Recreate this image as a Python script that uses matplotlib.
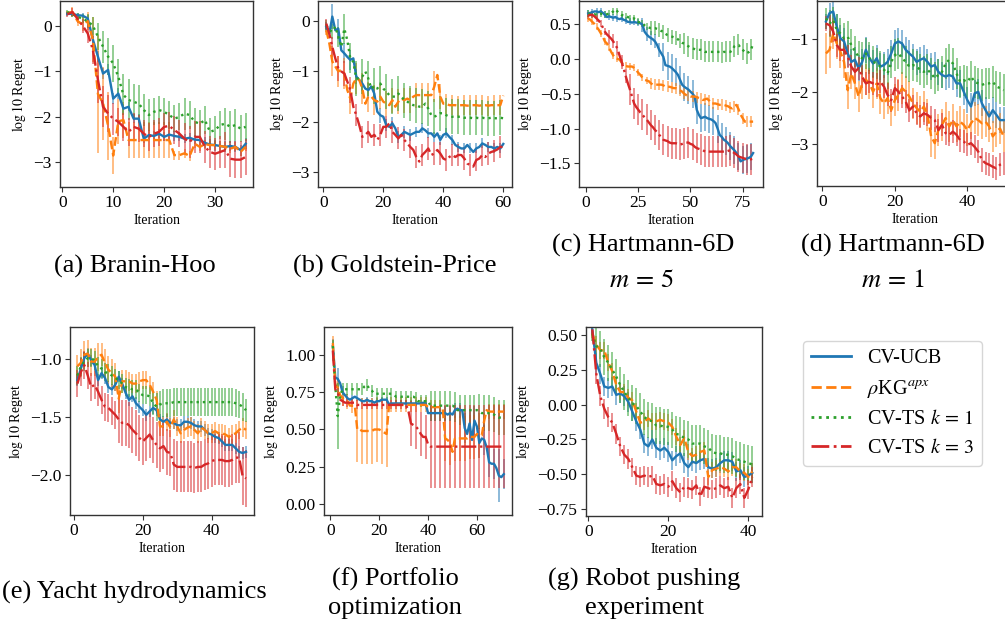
import numpy as np
import matplotlib
matplotlib.use('Agg')
import matplotlib.pyplot as plt
from matplotlib.lines import Line2D

plt.rcParams['font.family'] = ['Liberation Serif', 'DejaVu Serif']
plt.rcParams['mathtext.fontset'] = 'stix'
plt.rcParams['axes.unicode_minus'] = True

# ---------------- data ----------------
LABELS = ['CV-UCB', r'$\rho$KG$^{apx}$', r'CV-TS $k\,=\,1$', r'CV-TS $k\,=\,3$']

# (a) Branin-Hoo
A_UCB = [0.26,0.26,0.23,0.22,0.16,-0.30,-0.68,-1.05,-0.97,-1.60,
         -1.49,-1.82,-1.78,-2.04,-2.04,-2.48,-2.40,-2.42,-2.37,-2.44,
         -2.39,-2.42,-2.44,-2.48,-2.46,-2.50,-2.51,-2.57,-2.61,-2.62,
         -2.64,-2.66,-2.64,-2.66,-2.73,-2.59]
A_KG = [0.28,0.30,0.10,0.03,0.10,-0.30,-1.50,-1.70,-2.20,-2.85,
        -2.10,-2.07,-2.51,-2.51,-2.51,-2.51,-2.51,-2.51,-2.51,-2.51,
        -2.51,-2.84,-2.84,-2.80,-2.86,-2.59,-2.66,-2.60,-2.62,-2.62,
        -2.64,-2.66,-2.70,-2.66,-2.77,-2.66]
A_TS1 = [0.30,0.25,0.20,0.15,0.10,0.00,-0.24,-0.46,-0.68,-0.83,
         -1.12,-1.52,-1.63,-1.67,-1.71,-1.85,-1.96,-1.89,-1.85,-1.89,
         -1.96,-2.04,-2.00,-1.93,-1.96,-2.11,-2.15,-2.07,-2.33,-2.29,
         -2.18,-2.15,-2.22,-2.18,-2.26,-2.22]
A_TS3 = [0.25,0.30,0.15,0.00,-0.17,-0.53,-1.19,-1.78,-1.93,-2.04,
         -2.11,-2.22,-2.33,-2.22,-2.26,-2.37,-2.44,-2.37,-2.33,-2.22,
         -2.20,-2.29,-2.37,-2.48,-2.55,-2.44,-2.44,-2.66,-2.77,-2.81,
         -2.77,-2.73,-2.92,-2.94,-2.94,-2.88]
A_UCB_ERR = [0.05,0.05,0.05,0.06,0.08,0.10,0.12,0.12,0.12,0.12,
             0.12,0.10,0.10,0.10,0.10,0.10,0.10,0.10,0.10,0.10,
             0.10,0.10,0.10,0.10,0.10,0.10,0.10,0.12,0.12,0.12,
             0.12,0.12,0.12,0.12,0.12,0.12]
A_KG_ERR = [0.05,0.10,0.10,0.15,0.20,0.50,1.30,0.80,0.75,0.40,
            0.50,0.40,0.40,0.40,0.40,0.40,0.40,0.40,0.40,0.40,
            0.40,0.10,0.10,0.10,0.10,0.10,0.10,0.10,0.10,0.10,
            0.10,0.10,0.10,0.10,0.10,0.10]
A_TS1_ERR = [0.05,0.05,0.08,0.10,0.15,0.20,0.30,0.35,0.40,0.40,
             0.40,0.45,0.45,0.40,0.40,0.35,0.35,0.30,0.30,0.30,
             0.30,0.30,0.30,0.35,0.30,0.30,0.30,0.30,0.30,0.30,
             0.30,0.35,0.35,0.35,0.30,0.30]
A_TS3_ERR = [0.05,0.08,0.10,0.15,0.20,0.30,0.50,0.45,0.40,0.35,
             0.30,0.30,0.30,0.30,0.30,0.30,0.30,0.30,0.30,0.30,
             0.30,0.30,0.30,0.35,0.35,0.35,0.35,0.35,0.35,0.35,
             0.35,0.40,0.40,0.40,0.40,0.40]

# (b) Goldstein-Price
B_UCB = [-0.11,-0.25,0.09,-0.18,-0.15,-0.58,-0.64,-0.71,-0.77,-0.74,
         -1.10,-1.17,-1.24,-1.34,-1.37,-1.30,-1.44,-1.80,-1.87,-1.90,
         -2.07,-2.10,-2.03,-2.13,-2.30,-2.26,-2.20,-2.23,-2.26,-2.23,
         -2.20,-2.20,-2.13,-2.17,-2.23,-2.23,-2.30,-2.23,-2.36,-2.26,
         -2.23,-2.30,-2.36,-2.46,-2.50,-2.53,-2.53,-2.46,-2.53,-2.60,
         -2.53,-2.50,-2.43,-2.46,-2.50,-2.50,-2.53,-2.50,-2.53,-2.44]
B_KG = [-0.18,-0.44,-0.80,-0.90,-1.00,-0.97,-1.04,-1.37,-1.54,-1.24,
        -1.14,-1.17,-1.34,-1.64,-1.50,-1.50,-1.57,-1.60,-1.50,-1.60,
        -1.64,-1.67,-1.57,-1.70,-1.60,-1.54,-1.57,-1.54,-1.57,-1.50,
        -1.47,-1.47,-1.47,-1.47,-1.47,-1.47,-1.30,-1.07,-1.50,-1.64,
        -1.64,-1.67,-1.67,-1.67,-1.68,-1.67,-1.67,-1.68,-1.67,-1.67,
        -1.67,-1.68,-1.67,-1.67,-1.68,-1.67,-1.67,-1.67,-1.67,-1.48]
B_TS1 = [-0.08,-0.18,-0.21,-0.11,-0.31,-0.51,-0.15,-0.38,-0.74,-0.81,
         -1.14,-1.14,-1.10,-1.00,-1.14,-1.34,-1.29,-1.34,-1.24,-1.34,
         -1.40,-1.47,-1.50,-1.50,-1.44,-1.50,-1.57,-1.60,-1.64,-1.67,
         -1.67,-1.70,-1.70,-1.64,-1.74,-1.87,-1.90,-1.87,-1.83,-1.83,
         -1.87,-1.90,-1.90,-1.90,-1.90,-1.90,-1.92,-1.92,-1.92,-1.93,
         -1.92,-1.93,-1.92,-1.93,-1.93,-1.92,-1.93,-1.93,-1.92,-1.93]
B_TS3 = [-0.05,-0.25,-0.51,-0.74,-0.94,-1.00,-1.04,-1.20,-1.37,-1.70,
         -1.87,-2.07,-2.30,-2.26,-2.20,-2.30,-2.26,-2.36,-2.26,-2.10,
         -2.10,-2.03,-2.20,-2.26,-2.33,-2.26,-2.36,-2.43,-2.50,-2.56,
         -2.70,-2.79,-2.66,-2.60,-2.53,-2.66,-2.63,-2.56,-2.63,-2.73,
         -2.76,-2.70,-2.66,-2.70,-2.66,-2.66,-2.73,-2.83,-2.86,-2.89,
         -2.76,-2.73,-2.66,-2.70,-2.63,-2.60,-2.58,-2.55,-2.50,-2.50]
B_UCB_ERR = [0.10,0.15,0.25,0.20,0.20,0.20,0.20,0.20,0.20,0.20,
             0.15,0.15,0.15,0.15,0.15,0.15,0.15,0.15,0.15,0.15,
             0.12,0.12,0.12,0.12,0.12,0.12,0.12,0.12,0.12,0.12,
             0.10,0.10,0.10,0.10,0.10,0.10,0.10,0.10,0.10,0.10,
             0.10,0.10,0.10,0.10,0.10,0.10,0.10,0.10,0.10,0.10,
             0.10,0.10,0.10,0.10,0.10,0.10,0.10,0.10,0.10,0.10]
B_KG_ERR = [0.10,0.20,0.30,0.30,0.30,0.30,0.30,0.30,0.30,0.30,
            0.30,0.30,0.30,0.30,0.30,0.30,0.30,0.25,0.25,0.25,
            0.25,0.25,0.25,0.25,0.25,0.25,0.25,0.25,0.25,0.25,
            0.25,0.25,0.25,0.25,0.25,0.25,0.30,0.25,0.25,0.25,
            0.20,0.20,0.20,0.20,0.20,0.20,0.20,0.20,0.20,0.20,
            0.20,0.20,0.20,0.20,0.20,0.20,0.20,0.20,0.20,0.20]
B_TS1_ERR = [0.10,0.10,0.15,0.15,0.20,0.25,0.30,0.30,0.30,0.30,
             0.35,0.35,0.35,0.35,0.35,0.35,0.35,0.35,0.35,0.35,
             0.35,0.35,0.35,0.35,0.35,0.35,0.35,0.35,0.35,0.35,
             0.35,0.35,0.35,0.35,0.35,0.35,0.35,0.35,0.35,0.35,
             0.35,0.35,0.35,0.35,0.35,0.35,0.35,0.35,0.35,0.35,
             0.35,0.35,0.35,0.35,0.35,0.35,0.35,0.35,0.35,0.35]
B_TS3_ERR = [0.10,0.15,0.20,0.25,0.25,0.25,0.25,0.25,0.25,0.25,
             0.22,0.22,0.22,0.22,0.22,0.22,0.22,0.22,0.22,0.22,
             0.22,0.22,0.22,0.22,0.22,0.22,0.22,0.22,0.22,0.22,
             0.22,0.22,0.22,0.22,0.22,0.22,0.22,0.22,0.22,0.22,
             0.22,0.22,0.22,0.22,0.22,0.22,0.22,0.22,0.22,0.22,
             0.22,0.22,0.22,0.22,0.22,0.22,0.22,0.22,0.22,0.22]

# (c) Hartmann-6D, m = 5
C_UCB = [0.65,0.66,0.67,0.68,0.68,0.67,0.68,0.66,0.63,0.60,
         0.61,0.60,0.59,0.60,0.58,0.57,0.58,0.56,0.55,0.53,
         0.53,0.52,0.53,0.52,0.52,0.51,0.49,0.39,0.35,0.32,
         0.30,0.28,0.25,0.20,0.13,0.08,0.03,-0.09,-0.10,-0.11,
         -0.13,-0.16,-0.19,-0.23,-0.30,-0.37,-0.40,-0.42,-0.44,-0.47,
         -0.50,-0.54,-0.73,-0.80,-0.85,-0.84,-0.83,-0.85,-0.86,-0.87,
         -0.89,-0.92,-1.00,-1.09,-1.12,-1.16,-1.18,-1.21,-1.25,-1.28,
         -1.31,-1.35,-1.40,-1.47,-1.45,-1.44,-1.43,-1.42,-1.40,-1.35]
C_KG = [0.58,0.56,0.53,0.50,0.46,0.42,0.37,0.32,0.25,0.22,
        0.16,0.10,0.05,0.01,0.00,-0.01,-0.05,-0.09,-0.10,-0.11,
        -0.11,-0.11,-0.13,-0.16,-0.20,-0.23,-0.27,-0.30,-0.31,-0.32,
        -0.35,-0.37,-0.37,-0.37,-0.37,-0.37,-0.38,-0.40,-0.40,-0.40,
        -0.41,-0.42,-0.42,-0.43,-0.45,-0.47,-0.50,-0.52,-0.53,-0.54,
        -0.54,-0.54,-0.55,-0.56,-0.57,-0.59,-0.58,-0.57,-0.60,-0.64,
        -0.64,-0.64,-0.65,-0.66,-0.66,-0.66,-0.67,-0.68,-0.70,-0.71,
        -0.68,-0.66,-0.72,-0.80,-0.85,-0.90,-0.90,-0.90,-0.90,-0.90]
C_TS1 = [0.65,0.64,0.63,0.64,0.63,0.64,0.65,0.64,0.63,0.64,
         0.65,0.66,0.68,0.71,0.68,0.65,0.63,0.62,0.61,0.60,
         0.58,0.58,0.58,0.56,0.53,0.52,0.51,0.48,0.46,0.45,
         0.44,0.44,0.44,0.43,0.42,0.40,0.39,0.36,0.34,0.33,
         0.32,0.31,0.30,0.28,0.25,0.23,0.22,0.20,0.18,0.16,
         0.15,0.14,0.13,0.13,0.13,0.12,0.10,0.10,0.10,0.10,
         0.10,0.10,0.10,0.10,0.09,0.10,0.10,0.10,0.10,0.12,
         0.18,0.20,0.20,0.16,0.13,0.10,0.08,0.10,0.13,0.22]
C_TS3 = [0.62,0.63,0.63,0.61,0.58,0.55,0.51,0.45,0.39,0.35,
         0.32,0.29,0.25,0.20,0.15,0.05,-0.04,-0.14,-0.25,-0.35,
         -0.44,-0.54,-0.64,-0.69,-0.73,-0.77,-0.80,-0.84,-0.87,-0.91,
         -0.95,-0.98,-1.02,-1.05,-1.09,-1.12,-1.16,-1.17,-1.18,-1.20,
         -1.21,-1.21,-1.21,-1.22,-1.23,-1.22,-1.21,-1.20,-1.20,-1.22,
         -1.23,-1.26,-1.28,-1.29,-1.30,-1.31,-1.33,-1.33,-1.33,-1.33,
         -1.33,-1.33,-1.33,-1.33,-1.33,-1.33,-1.33,-1.32,-1.31,-1.33,
         -1.35,-1.37,-1.40,-1.41,-1.42,-1.43,-1.44,-1.44,-1.44,-1.43]
C_UCB_ERR = [0.05,0.05,0.05,0.05,0.05,0.05,0.05,0.05,0.05,0.05,
             0.05,0.05,0.05,0.05,0.05,0.05,0.05,0.05,0.05,0.05,
             0.05,0.05,0.05,0.05,0.05,0.10,0.10,0.10,0.10,0.10,
             0.10,0.10,0.10,0.10,0.10,0.20,0.20,0.20,0.20,0.20,
             0.20,0.20,0.20,0.20,0.20,0.20,0.20,0.20,0.20,0.20,
             0.20,0.20,0.20,0.20,0.20,0.20,0.20,0.20,0.20,0.20,
             0.20,0.20,0.20,0.20,0.20,0.20,0.20,0.20,0.20,0.20,
             0.20,0.20,0.20,0.20,0.20,0.20,0.20,0.20,0.20,0.20]
C_KG_ERR = [0.05,0.05,0.05,0.05,0.05,0.05,0.05,0.05,0.05,0.05,
            0.05,0.05,0.05,0.05,0.05,0.05,0.05,0.05,0.05,0.05,
            0.05,0.05,0.05,0.05,0.05,0.05,0.05,0.05,0.05,0.05,
            0.08,0.08,0.08,0.08,0.08,0.08,0.08,0.08,0.08,0.08,
            0.08,0.08,0.08,0.08,0.08,0.08,0.08,0.08,0.08,0.08,
            0.08,0.08,0.08,0.08,0.08,0.08,0.08,0.08,0.08,0.08,
            0.08,0.08,0.08,0.08,0.08,0.08,0.08,0.08,0.08,0.08,
            0.08,0.08,0.08,0.08,0.08,0.08,0.08,0.08,0.08,0.08]
C_TS1_ERR = [0.05,0.05,0.05,0.05,0.05,0.05,0.05,0.05,0.05,0.05,
             0.05,0.05,0.05,0.05,0.05,0.05,0.05,0.05,0.05,0.05,
             0.05,0.05,0.05,0.05,0.05,0.05,0.05,0.05,0.05,0.05,
             0.10,0.10,0.10,0.10,0.10,0.10,0.10,0.10,0.10,0.10,
             0.10,0.10,0.10,0.10,0.10,0.15,0.15,0.15,0.15,0.15,
             0.15,0.15,0.15,0.15,0.15,0.15,0.15,0.15,0.15,0.15,
             0.15,0.15,0.15,0.15,0.15,0.15,0.15,0.15,0.15,0.15,
             0.15,0.15,0.15,0.15,0.15,0.15,0.15,0.15,0.15,0.15]
C_TS3_ERR = [0.05,0.05,0.05,0.05,0.05,0.05,0.05,0.05,0.05,0.05,
             0.10,0.10,0.10,0.10,0.10,0.10,0.10,0.10,0.10,0.10,
             0.22,0.22,0.22,0.22,0.22,0.22,0.22,0.22,0.22,0.22,
             0.22,0.22,0.22,0.22,0.22,0.22,0.22,0.22,0.22,0.22,
             0.22,0.22,0.22,0.22,0.22,0.22,0.22,0.22,0.22,0.22,
             0.22,0.22,0.22,0.22,0.22,0.22,0.22,0.22,0.22,0.22,
             0.22,0.22,0.22,0.22,0.22,0.22,0.22,0.22,0.22,0.22,
             0.22,0.22,0.22,0.22,0.22,0.22,0.22,0.22,0.22,0.22]

# (d) Hartmann-6D, m = 1
D_UCB = [-0.66,-0.50,-0.47,-0.76,-0.98,-1.04,-1.27,-1.43,-1.39,-1.55,
         -1.43,-1.20,-1.36,-1.46,-1.36,-1.52,-1.49,-1.43,-1.27,-1.08,
         -1.04,-1.08,-1.20,-1.27,-1.33,-1.43,-1.39,-1.36,-1.43,-1.52,
         -1.49,-1.62,-1.68,-1.71,-1.68,-1.71,-1.84,-1.84,-2.00,-2.16,
         -2.28,-2.03,-2.00,-2.22,-2.35,-2.47,-2.35,-2.44,-2.54,-2.54]
D_KG = [-1.27,-1.20,-0.89,-1.08,-1.24,-1.43,-1.97,-1.65,-1.84,-2.09,
        -1.84,-1.77,-1.84,-2.00,-1.84,-2.12,-2.22,-2.12,-2.35,-2.16,
        -2.06,-1.93,-2.00,-2.09,-2.22,-2.31,-2.38,-2.28,-2.44,-2.85,
        -2.98,-2.73,-2.63,-2.50,-2.66,-2.54,-2.66,-2.57,-2.63,-2.73,
        -2.60,-2.50,-2.54,-2.60,-2.57,-2.66,-2.85,-2.76,-2.70,-2.85]
D_TS1 = [-0.60,-0.70,-0.63,-0.82,-0.89,-0.98,-0.95,-1.11,-1.23,-1.33,
         -1.36,-1.27,-1.36,-1.43,-1.46,-1.52,-1.58,-1.65,-1.43,-1.30,
         -1.27,-1.36,-1.43,-1.52,-1.49,-1.52,-1.58,-1.62,-1.58,-1.65,
         -1.74,-1.68,-1.62,-1.46,-1.39,-1.46,-1.65,-1.81,-1.78,-1.81,
         -1.71,-1.81,-1.84,-1.87,-1.84,-1.84,-1.81,-1.90,-1.93,-1.97]
D_TS3 = [-0.70,-0.73,-0.85,-1.11,-1.20,-1.20,-1.33,-1.52,-1.62,-1.55,
         -1.71,-1.84,-1.81,-1.84,-1.87,-1.81,-1.90,-2.06,-2.16,-1.93,
         -2.00,-2.09,-2.19,-2.35,-2.28,-2.41,-2.47,-2.41,-2.44,-2.50,
         -2.54,-2.73,-2.63,-2.79,-2.82,-2.76,-2.82,-2.92,-2.95,-3.01,
         -2.98,-3.05,-3.14,-3.30,-3.36,-3.39,-3.43,-3.46,-3.39,-3.36]
D_UCB_ERR = [0.15,0.20,0.20,0.25,0.25,0.25,0.25,0.25,0.25,0.25,
             0.25,0.25,0.25,0.25,0.25,0.25,0.25,0.25,0.25,0.25,
             0.25,0.25,0.25,0.25,0.25,0.25,0.25,0.25,0.25,0.25,
             0.25,0.25,0.25,0.25,0.25,0.25,0.25,0.25,0.25,0.25,
             0.25,0.25,0.25,0.25,0.25,0.25,0.25,0.25,0.25,0.25]
D_KG_ERR = [0.40,0.35,0.30,0.30,0.30,0.30,0.35,0.30,0.30,0.30,
            0.30,0.30,0.30,0.30,0.30,0.30,0.30,0.30,0.30,0.30,
            0.30,0.30,0.30,0.30,0.30,0.30,0.30,0.30,0.30,0.40,
            0.30,0.30,0.30,0.30,0.30,0.30,0.30,0.30,0.30,0.30,
            0.30,0.30,0.30,0.30,0.30,0.30,0.30,0.30,0.30,0.30]
D_TS1_ERR = [0.20,0.25,0.25,0.30,0.30,0.30,0.30,0.30,0.30,0.30,
             0.30,0.30,0.30,0.30,0.30,0.30,0.30,0.30,0.30,0.30,
             0.30,0.30,0.30,0.30,0.30,0.30,0.30,0.30,0.30,0.30,
             0.30,0.30,0.30,0.30,0.30,0.30,0.30,0.30,0.30,0.30,
             0.30,0.30,0.30,0.30,0.30,0.30,0.30,0.30,0.30,0.30]
D_TS3_ERR = [0.15,0.20,0.20,0.22,0.22,0.22,0.22,0.22,0.22,0.22,
             0.22,0.22,0.22,0.22,0.22,0.22,0.22,0.22,0.22,0.22,
             0.22,0.22,0.22,0.22,0.22,0.22,0.22,0.22,0.22,0.22,
             0.22,0.22,0.22,0.22,0.22,0.22,0.22,0.22,0.22,0.22,
             0.22,0.22,0.22,0.22,0.22,0.22,0.22,0.22,0.22,0.22]

# (e) Yacht hydrodynamics
E_UCB = [-1.18,-1.08,-0.99,-0.95,-1.01,-1.05,-1.18,-1.12,-1.16,-1.24,
         -1.26,-1.22,-1.15,-1.21,-1.29,-1.35,-1.32,-1.38,-1.41,-1.44,
         -1.48,-1.45,-1.42,-1.44,-1.52,-1.54,-1.52,-1.55,-1.55,-1.57,
         -1.57,-1.54,-1.54,-1.55,-1.57,-1.58,-1.58,-1.61,-1.64,-1.65,
         -1.67,-1.68,-1.71,-1.74,-1.74,-1.74,-1.77,-1.80,-1.81,-1.80]
E_KG = [-1.06,-1.03,-0.96,-0.95,-1.02,-1.02,-0.98,-0.96,-1.03,-1.09,
        -1.12,-1.15,-1.34,-1.19,-1.19,-1.19,-1.21,-1.21,-1.19,-1.18,
        -1.18,-1.22,-1.28,-1.35,-1.58,-1.58,-1.54,-1.59,-1.52,-1.58,
        -1.64,-1.61,-1.59,-1.58,-1.61,-1.64,-1.59,-1.61,-1.64,-1.64,
        -1.62,-1.64,-1.64,-1.65,-1.67,-1.65,-1.64,-1.61,-1.59,-1.61]
E_TS1 = [-1.14,-1.06,-1.02,-0.99,-0.99,-1.01,-1.06,-1.08,-1.11,-1.12,
         -1.14,-1.16,-1.18,-1.21,-1.24,-1.25,-1.26,-1.26,-1.29,-1.31,
         -1.31,-1.32,-1.38,-1.41,-1.39,-1.38,-1.38,-1.38,-1.37,-1.37,
         -1.37,-1.37,-1.37,-1.37,-1.37,-1.37,-1.37,-1.37,-1.37,-1.37,
         -1.37,-1.37,-1.37,-1.37,-1.37,-1.37,-1.38,-1.39,-1.41,-1.44]
E_TS3 = [-1.21,-1.11,-1.05,-1.14,-1.24,-1.22,-1.28,-1.35,-1.41,-1.42,
         -1.45,-1.48,-1.52,-1.55,-1.55,-1.57,-1.61,-1.64,-1.68,-1.71,
         -1.68,-1.65,-1.70,-1.74,-1.77,-1.75,-1.80,-1.81,-1.91,-1.93,
         -1.93,-1.93,-1.93,-1.93,-1.94,-1.93,-1.93,-1.91,-1.90,-1.88,
         -1.87,-1.87,-1.87,-1.88,-1.88,-1.87,-1.85,-1.85,-2.01,-2.03]
E_UCB_ERR = [0.05,0.05,0.05,0.05,0.05,0.05,0.05,0.05,0.05,0.05,
             0.05,0.05,0.05,0.05,0.05,0.05,0.05,0.05,0.05,0.05,
             0.05,0.05,0.05,0.05,0.05,0.05,0.05,0.05,0.05,0.05,
             0.05,0.05,0.05,0.05,0.05,0.05,0.05,0.05,0.05,0.05,
             0.05,0.05,0.05,0.05,0.05,0.05,0.05,0.05,0.05,0.05]
E_KG_ERR = [0.10,0.12,0.12,0.12,0.12,0.12,0.12,0.10,0.12,0.12,
            0.12,0.12,0.12,0.10,0.10,0.08,0.08,0.08,0.08,0.08,
            0.08,0.08,0.08,0.08,0.08,0.08,0.08,0.08,0.08,0.08,
            0.08,0.08,0.08,0.08,0.08,0.08,0.08,0.08,0.08,0.08,
            0.08,0.08,0.08,0.08,0.08,0.08,0.08,0.08,0.08,0.08]
E_TS1_ERR = [0.08,0.08,0.08,0.08,0.08,0.08,0.08,0.08,0.08,0.08,
             0.08,0.08,0.08,0.08,0.08,0.08,0.08,0.08,0.08,0.08,
             0.08,0.08,0.10,0.12,0.12,0.12,0.12,0.12,0.12,0.12,
             0.12,0.12,0.12,0.12,0.12,0.12,0.12,0.12,0.12,0.12,
             0.12,0.12,0.12,0.12,0.12,0.12,0.12,0.12,0.12,0.10]
E_TS3_ERR = [0.12,0.12,0.12,0.12,0.12,0.12,0.12,0.12,0.12,0.12,
             0.12,0.12,0.20,0.20,0.20,0.20,0.20,0.20,0.20,0.20,
             0.20,0.20,0.20,0.20,0.20,0.20,0.20,0.20,0.22,0.22,
             0.22,0.22,0.22,0.22,0.22,0.22,0.22,0.22,0.22,0.22,
             0.22,0.22,0.22,0.22,0.22,0.22,0.22,0.22,0.25,0.25]

# (f) Portfolio optimization
F_UCB = [1.06,0.85,0.84,0.81,0.75,0.73,0.71,0.70,0.71,0.72,
         0.71,0.70,0.69,0.69,0.70,0.69,0.69,0.68,0.69,0.69,
         0.70,0.70,0.70,0.67,0.675,0.675,0.675,0.675,0.675,0.675,
         0.675,0.675,0.675,0.675,0.675,0.675,0.675,0.68,0.675,0.61,
         0.61,0.61,0.61,0.61,0.61,0.61,0.61,0.60,0.61,0.60,
         0.63,0.64,0.63,0.63,0.51,0.47,0.54,0.43,0.56,0.52,
         0.41,0.44,0.43,0.38,0.28,0.27,0.27,0.24,0.19,0.18,0.20]
F_KG = [1.08,0.80,0.78,0.73,0.71,0.70,0.69,0.66,0.66,0.66,
        0.50,0.50,0.49,0.49,0.49,0.49,0.49,0.50,0.50,0.50,
        0.49,0.48,0.47,0.66,0.665,0.665,0.665,0.665,0.665,0.665,
        0.665,0.665,0.665,0.665,0.665,0.665,0.665,0.665,0.665,0.65,
        0.65,0.65,0.65,0.65,0.65,0.64,0.44,0.43,0.41,0.35,
        0.44,0.44,0.44,0.44,0.44,0.44,0.45,0.45,0.45,0.47,
        0.46,0.46,0.56,0.63,0.62,0.62,0.62,0.62,0.62,0.62,0.62]
F_TS1 = [1.06,0.79,0.59,0.73,0.77,0.77,0.77,0.77,0.77,0.77,
         0.77,0.77,0.77,0.79,0.80,0.77,0.76,0.74,0.74,0.74,
         0.74,0.74,0.74,0.74,0.74,0.73,0.72,0.72,0.72,0.72,
         0.72,0.72,0.72,0.72,0.71,0.69,0.69,0.69,0.69,0.69,
         0.66,0.66,0.66,0.66,0.66,0.66,0.66,0.66,0.66,0.66,
         0.65,0.63,0.63,0.63,0.63,0.63,0.63,0.63,0.63,0.63,
         0.62,0.61,0.61,0.61,0.61,0.61,0.60,0.59,0.58,0.58,0.58]
F_TS3 = [1.03,0.77,0.75,0.70,0.69,0.68,0.68,0.68,0.68,0.68,
         0.665,0.665,0.665,0.665,0.665,0.665,0.665,0.665,0.665,0.665,
         0.665,0.665,0.665,0.665,0.665,0.665,0.665,0.665,0.665,0.665,
         0.665,0.62,0.54,0.53,0.52,0.50,0.47,0.45,0.45,0.40,
         0.385,0.385,0.385,0.385,0.385,0.385,0.385,0.385,0.385,0.385,
         0.385,0.385,0.385,0.385,0.385,0.385,0.385,0.385,0.385,0.385,
         0.385,0.385,0.385,0.385,0.385,0.385,0.385,0.385,0.385,0.385,0.385]
F_UCB_ERR = [0.05,0.07,0.07,0.07,0.04,0.03,0.03,0.02,0.02,0.02,
             0.02,0.02,0.02,0.02,0.02,0.02,0.02,0.02,0.02,0.02,
             0.02,0.02,0.02,0.02,0.02,0.02,0.02,0.02,0.02,0.02,
             0.02,0.02,0.02,0.02,0.02,0.02,0.02,0.02,0.02,0.05,
             0.05,0.05,0.05,0.05,0.05,0.05,0.05,0.05,0.05,0.05,
             0.05,0.05,0.05,0.05,0.10,0.10,0.10,0.10,0.10,0.10,
             0.10,0.10,0.10,0.10,0.10,0.10,0.10,0.10,0.18,0.10,0.10]
F_KG_ERR = [0.05,0.05,0.05,0.05,0.05,0.05,0.05,0.05,0.05,0.05,
            0.22,0.22,0.22,0.22,0.22,0.22,0.22,0.22,0.22,0.22,
            0.22,0.22,0.22,0.05,0.05,0.05,0.05,0.05,0.05,0.05,
            0.05,0.05,0.05,0.05,0.05,0.05,0.05,0.05,0.05,0.05,
            0.05,0.05,0.05,0.05,0.05,0.05,0.15,0.15,0.15,0.15,
            0.15,0.15,0.15,0.15,0.15,0.15,0.15,0.15,0.15,0.15,
            0.15,0.15,0.05,0.05,0.05,0.05,0.05,0.05,0.05,0.05,0.05]
F_TS1_ERR = [0.04,0.04,0.22,0.04,0.04,0.04,0.04,0.04,0.04,0.04,
             0.04,0.04,0.04,0.04,0.04,0.04,0.04,0.04,0.04,0.04,
             0.04,0.04,0.04,0.04,0.04,0.04,0.04,0.04,0.04,0.04,
             0.04,0.04,0.04,0.04,0.04,0.04,0.04,0.04,0.04,0.10,
             0.10,0.10,0.10,0.10,0.10,0.10,0.10,0.10,0.10,0.10,
             0.10,0.10,0.10,0.10,0.10,0.10,0.10,0.10,0.10,0.10,
             0.12,0.12,0.12,0.12,0.12,0.12,0.12,0.12,0.12,0.12,0.12]
F_TS3_ERR = [0.03,0.03,0.03,0.03,0.03,0.03,0.03,0.03,0.03,0.03,
             0.03,0.03,0.03,0.03,0.03,0.03,0.03,0.03,0.03,0.03,
             0.03,0.03,0.03,0.03,0.03,0.03,0.03,0.03,0.03,0.03,
             0.03,0.05,0.15,0.15,0.15,0.15,0.15,0.15,0.15,0.28,
             0.28,0.28,0.28,0.28,0.28,0.28,0.28,0.28,0.28,0.28,
             0.28,0.28,0.28,0.28,0.28,0.28,0.28,0.28,0.28,0.28,
             0.28,0.28,0.28,0.28,0.28,0.28,0.28,0.28,0.28,0.28,0.28]

# (g) Robot pushing experiment
G_UCB = [0.54,0.30,0.22,0.13,0.12,0.13,0.07,0.08,0.06,0.02,
         -0.05,-0.12,-0.18,-0.28,-0.30,-0.25,-0.31,-0.33,-0.31,-0.34,
         -0.40,-0.37,-0.35,-0.42,-0.45,-0.41,-0.42,-0.40,-0.39,-0.45,
         -0.46,-0.45,-0.42,-0.40,-0.40,-0.41,-0.48,-0.47,-0.52,-0.51,-0.49]
G_KG = [0.51,0.43,0.39,0.39,0.30,0.24,0.14,0.09,0.09,0.05,
        0.03,-0.05,-0.13,-0.12,-0.10,-0.12,-0.12,-0.11,-0.12,-0.13,
        -0.16,-0.23,-0.29,-0.24,-0.34,-0.37,-0.36,-0.34,-0.33,-0.52,
        -0.47,-0.46,-0.45,-0.46,-0.48,-0.45,-0.45,-0.48,-0.49,-0.52,-0.48]
G_TS1 = [0.51,0.42,0.40,0.34,0.30,0.25,0.20,0.14,0.09,0.05,
         0.01,-0.01,-0.05,-0.09,-0.11,-0.12,-0.15,-0.15,-0.16,-0.16,
         -0.18,-0.21,-0.22,-0.24,-0.25,-0.28,-0.28,-0.28,-0.30,-0.31,
         -0.34,-0.35,-0.35,-0.36,-0.36,-0.37,-0.39,-0.40,-0.41,-0.42,-0.43]
G_TS3 = [0.54,0.22,0.06,-0.03,-0.09,-0.13,-0.21,-0.30,-0.36,-0.39,
         -0.45,-0.51,-0.52,-0.51,-0.52,-0.51,-0.57,-0.58,-0.57,-0.59,
         -0.55,-0.60,-0.63,-0.59,-0.60,-0.61,-0.58,-0.66,-0.59,-0.60,
         -0.61,-0.60,-0.58,-0.60,-0.59,-0.67,-0.60,-0.57,-0.67,-0.61,-0.52]
G_UCB_ERR = [0.03,0.07,0.07,0.07,0.07,0.07,0.07,0.07,0.07,0.07,
             0.07,0.07,0.07,0.07,0.07,0.07,0.07,0.07,0.07,0.07,
             0.07,0.07,0.07,0.07,0.07,0.07,0.07,0.07,0.07,0.07,
             0.07,0.07,0.07,0.07,0.07,0.07,0.07,0.07,0.07,0.07,0.07]
G_KG_ERR = [0.03,0.06,0.06,0.06,0.06,0.06,0.06,0.06,0.06,0.06,
            0.06,0.06,0.06,0.06,0.06,0.06,0.06,0.06,0.06,0.06,
            0.06,0.06,0.06,0.06,0.06,0.06,0.06,0.06,0.06,0.06,
            0.06,0.06,0.06,0.06,0.06,0.06,0.06,0.06,0.06,0.06,0.06]
G_TS1_ERR = [0.05,0.13,0.13,0.13,0.13,0.13,0.13,0.13,0.13,0.13,
             0.13,0.13,0.13,0.13,0.13,0.13,0.13,0.13,0.13,0.13,
             0.13,0.13,0.13,0.13,0.13,0.13,0.13,0.13,0.13,0.13,
             0.13,0.13,0.13,0.13,0.13,0.13,0.13,0.13,0.13,0.13,0.13]
G_TS3_ERR = [0.03,0.07,0.07,0.07,0.07,0.07,0.07,0.07,0.07,0.07,
             0.07,0.07,0.07,0.07,0.07,0.07,0.07,0.07,0.07,0.07,
             0.07,0.07,0.07,0.07,0.07,0.07,0.07,0.07,0.07,0.07,
             0.07,0.07,0.07,0.07,0.07,0.07,0.07,0.07,0.07,0.07,0.07]

# ---------------- style / layout ----------------
COLORS = ['#1f77b4', '#ff7f0e', '#2ca02c', '#d62728']
STYLES = ['-', '--', ':', '-.']
SPINE = '#333333'

W, H = 1005, 623
fig = plt.figure(figsize=(W / 100, H / 100), dpi=100)


def add_ax(box):
    l, t, r, b = box
    return fig.add_axes([l / W, 1 - b / H, (r - l) / W, (b - t) / H])


panels = [
    dict(box=(60, 0.5, 253.3, 187), xlim=(-0.45, 37.5), ylim=(-3.54, 0.553),
         xt=[0, 10, 20, 30], yt=[0, -1, -2, -3], every=1,
         ys=[A_UCB, A_KG, A_TS1, A_TS3], es=[A_UCB_ERR, A_KG_ERR, A_TS1_ERR, A_TS3_ERR]),
    dict(box=(318.3, 0.5, 512, 186.7), xlim=(-1.67, 62.9), ylim=(-3.29, 0.41),
         xt=[0, 20, 40, 60], yt=[0, -1, -2, -3], every=2,
         ys=[B_UCB, B_KG, B_TS1, B_TS3], es=[B_UCB_ERR, B_KG_ERR, B_TS1_ERR, B_TS3_ERR]),
    dict(box=(579.3, 0.5, 762.5, 186.7), xlim=(-3.26, 84.5), ylim=(-1.833, 0.837),
         xt=[0, 25, 50, 75], yt=[0.5, 0.0, -0.5, -1.0, -1.5], every=2,
         ys=[C_UCB, C_KG, C_TS1, C_TS3], es=[C_UCB_ERR, C_KG_ERR, C_TS1_ERR, C_TS3_ERR]),
    dict(box=(817.3, 0.5, 1012, 185.7), xlim=(-1.38, 52.3), ylim=(-3.79, -0.26),
         xt=[0, 20, 40], yt=[-1, -2, -3], every=1,
         ys=[D_UCB, D_KG, D_TS1, D_TS3], es=[D_UCB_ERR, D_KG_ERR, D_TS1_ERR, D_TS3_ERR]),
    dict(box=(70, 326.7, 254.3, 515), xlim=(-1.16, 52.4), ylim=(-2.346, -0.718),
         xt=[0, 20, 40], yt=[-1.0, -1.5, -2.0], every=1,
         ys=[E_UCB, E_KG, E_TS1, E_TS3], es=[E_UCB_ERR, E_KG_ERR, E_TS1_ERR, E_TS3_ERR]),
    dict(box=(324.3, 326.7, 512.3, 515), xlim=(-2.5, 74.5), ylim=(-0.074, 1.19),
         xt=[0, 20, 40, 60], yt=[0.0, 0.25, 0.5, 0.75, 1.0], every=2,
         ys=[F_UCB, F_KG, F_TS1, F_TS3], es=[F_UCB_ERR, F_KG_ERR, F_TS1_ERR, F_TS3_ERR]),
    dict(box=(585.7, 327.3, 761.7, 516), xlim=(-0.65, 43.35), ylim=(-0.80, 0.555),
         xt=[0, 20, 40], yt=[0.5, 0.25, 0.0, -0.25, -0.5, -0.75], every=1,
         ys=[G_UCB, G_KG, G_TS1, G_TS3], es=[G_UCB_ERR, G_KG_ERR, G_TS1_ERR, G_TS3_ERR]),
]

for p in panels:
    ax = add_ax(p['box'])
    for i in range(4):
        y = np.asarray(p['ys'][i], dtype=float)
        e = np.asarray(p['es'][i], dtype=float)
        n = min(len(y), len(e))
        x = np.arange(1, n + 1)
        ax.errorbar(x, y[:n], yerr=e[:n], fmt='none', ecolor=COLORS[i],
                    elinewidth=1.1, alpha=0.65, errorevery=p['every'], zorder=2)
    for i in range(4):
        y = np.asarray(p['ys'][i], dtype=float)
        x = np.arange(1, len(y) + 1)
        ax.plot(x, y, color=COLORS[i], ls=STYLES[i], lw=1.7, zorder=3 + i)
    ax.set_xlim(*p['xlim'])
    ax.set_ylim(*p['ylim'])
    ax.set_xticks(p['xt'])
    ax.set_yticks(p['yt'])
    ax.set_xlabel('Iteration', fontsize=10, labelpad=2)
    ax.set_ylabel(r'$\log 10$ Regret', fontsize=10)
    ax.tick_params(labelsize=12.5, length=3.5, width=0.8, color=SPINE, pad=2.5)
    for s in ax.spines.values():
        s.set_color(SPINE)
        s.set_linewidth(1.0)

# legend
handles = [Line2D([], [], color=COLORS[i], ls=STYLES[i], lw=2.0) for i in range(4)]
fig.legend(handles, LABELS, loc='upper left',
           bbox_to_anchor=(802.7 / W, 1 - 340.7 / H), borderaxespad=0,
           fontsize=14.5, frameon=True, edgecolor='#cccccc', fancybox=True)

# captions
CAP = 19
caps = [
    ('(a) Branin-Hoo', 135, 273),
    ('(b) Goldstein-Price', 395, 273),
    ('(c) Hartmann-6D', 643, 252),
    (r'$m\,=\,5$', 641, 287),
    ('(d) Hartmann-6D', 893, 252),
    (r'$m\,=\,1$', 893, 287),
    ('(e) Yacht hydrodynamics', 134, 599),
    ('(f) Portfolio', 395, 586),
    ('optimization', 395, 614),
    ('(g) Robot pushing', 644, 586),
    ('experiment', 644, 614),
]
for t, cx, cy in caps:
    fig.text(cx / W, 1 - cy / H, t, ha='center', va='baseline', fontsize=CAP)

fig.savefig('out.png', dpi=100)
